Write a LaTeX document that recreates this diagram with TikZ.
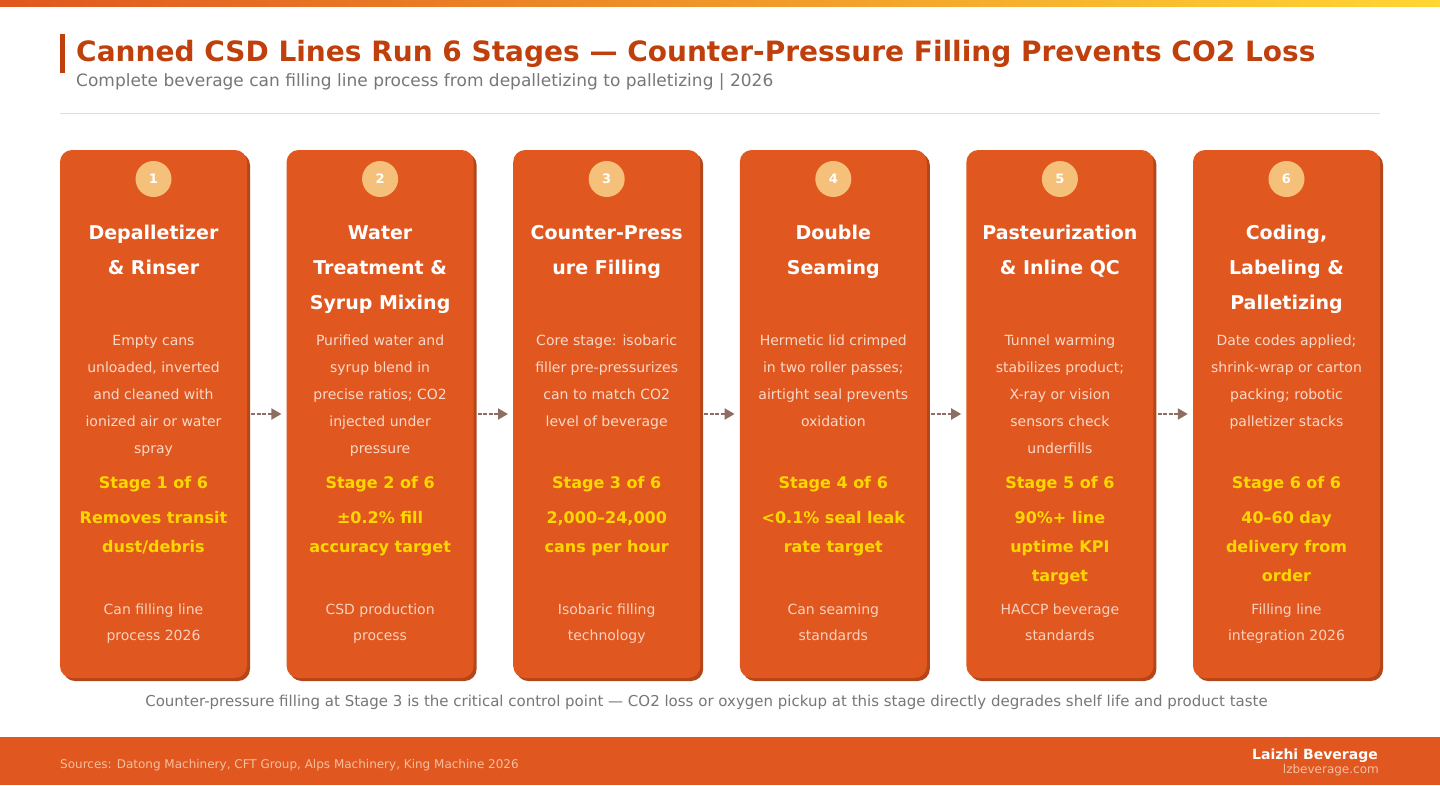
\documentclass[tikz,border=0pt]{standalone}
\usepackage{fontspec}
\setmainfont{DejaVu Sans}
\usetikzlibrary{shadows,arrows.meta}
\definecolor{cardbg}{HTML}{E0571F}
\definecolor{cardshadow}{HTML}{B4461A}
\definecolor{circc}{HTML}{F5C07A}
\definecolor{desccol}{HTML}{FAD9C8}
\definecolor{srccol}{HTML}{F8D2BE}
\definecolor{yel}{HTML}{FFD700}
\definecolor{titlec}{HTML}{BF400C}
\definecolor{subgray}{HTML}{777777}
\definecolor{sepgray}{HTML}{DDDDDD}
\definecolor{topL}{HTML}{E0571F}
\definecolor{topR}{HTML}{FFD633}
\definecolor{arrowc}{HTML}{8D6E63}
\definecolor{footsrc}{HTML}{F5BFA0}
\tikzset{
  card/.style={fill=cardbg, rounded corners=12pt, minimum width=187pt, minimum height=528pt, inner sep=0pt,
    drop shadow={shadow xshift=3pt, shadow yshift=-3pt, fill=cardshadow, opacity=1}},
  circ/.style={circle, fill=circc, minimum size=36pt, inner sep=0pt, text=white, font=\fontsize{13}{15}\selectfont\bfseries},
  ttl/.style={anchor=base, inner sep=0pt, text=white, font=\fontsize{19}{22}\selectfont\bfseries},
  desc/.style={anchor=base, inner sep=0pt, text=desccol, font=\fontsize{14}{16}\selectfont},
  stg/.style={anchor=base, inner sep=0pt, text=yel, font=\fontsize{16}{19}\selectfont\bfseries},
  src/.style={anchor=base, inner sep=0pt, text=srccol, font=\fontsize{14}{16}\selectfont},
  flow/.style={arrowc, line width=2pt, dash pattern=on 4pt off 1.5pt, -{Triangle[length=10pt,width=11pt]}},
}
\newcommand\cardtext[6]{%
  \pgfmathsetmacro\cx{153.5+(#1-1)*226.6}
  \node[card] (c#1) at (\cx,414) {};
  \node[circ] (n#1) at (\cx,179) {#1};
  \foreach \l [count=\k from 0] in {#2} {\node[ttl] (t#1-\k) at (\cx,{239+35*\k}) {\l};}
  \foreach \l [count=\k from 0] in {#3} {\node[desc] (d#1-\k) at (\cx,{345+27*\k}) {\l};}
  \node[stg] (s#1) at (\cx,488) {Stage #1 of 6};
  \foreach \l [count=\k from 0] in {#4} {\node[stg] (m#1-\k) at (\cx,{523+29*\k}) {\l};}
  \foreach \l [count=\k from 0] in {#5} {\node[src] (r#1-\k) at (\cx,{614+26.5*\k}) {\l};}
}
\begin{document}
\begin{tikzpicture}[x=1pt,y=-1pt]
\useasboundingbox (0,0) rectangle (1440,785);
\fill[white] (0,0) rectangle (1440,785);
\shade[left color=topL, right color=topR] (0,0) rectangle (1440,6);
\fill[titlec] (60,34) rectangle (65,73);
\node[anchor=base west, inner sep=0pt, text=titlec, font=\fontsize{28}{32}\selectfont\bfseries] (title) at (76,61)
  {Canned CSD Lines Run 6 Stages — Counter-Pressure Filling Prevents CO2 Loss};
\node[anchor=base west, inner sep=0pt, text=subgray, font=\fontsize{17}{20}\selectfont] (subtitle) at (76,86)
  {Complete beverage can filling line process from depalletizing to palletizing | 2026};
\draw[sepgray, line width=1pt] (60,113) -- (1380,113);

\cardtext{1}{Depalletizer,\& Rinser}{Empty cans,{unloaded, inverted},and cleaned with,ionized air or water,spray}{Removes transit,dust/debris}{Can filling line,process 2026}{}
\cardtext{2}{Water,Treatment \&,Syrup Mixing}{Purified water and,syrup blend in,{precise ratios; CO2},injected under,pressure}{±0.2\% fill,accuracy target}{CSD production,process}{}
\cardtext{3}{Counter-Press,ure Filling}{Core stage: isobaric,filler pre-pressurizes,can to match CO2,level of beverage}{{2,000–24,000},cans per hour}{Isobaric filling,technology}{}
\cardtext{4}{Double,Seaming}{Hermetic lid crimped,{in two roller passes;},airtight seal prevents,oxidation}{<0.1\% seal leak,rate target}{Can seaming,standards}{}
\cardtext{5}{Pasteurization,\& Inline QC}{Tunnel warming,stabilizes product;,X-ray or vision,sensors check,underfills}{90\%+ line,uptime KPI,target}{HACCP beverage,standards}{}
\cardtext{6}{{Coding,},Labeling \&,Palletizing}{Date codes applied;,shrink-wrap or carton,packing; robotic,palletizer stacks}{40–60 day,delivery from,order}{Filling line,integration 2026}{}

\foreach \i/\j in {1/2,2/3,3/4,4/5,5/6} {\draw[flow] ([xshift=4pt]c\i.east) -- ([xshift=-5pt]c\j.west);}

\node[anchor=base, inner sep=0pt, text=subgray, font=\fontsize{15}{18}\selectfont] (caption) at (706.5,706)
  {Counter-pressure filling at Stage 3 is the critical control point — CO2 loss or oxygen pickup at this stage directly degrades shelf life and product taste};

\fill[cardbg] (0,737) rectangle (1440,785);
\node[anchor=base west, inner sep=0pt, text=footsrc, font=\fontsize{12}{14}\selectfont] (sources) at (60,768)
  {Sources: Datong Machinery, CFT Group, Alps Machinery, King Machine 2026};
\node[anchor=base east, inner sep=0pt, text=white, font=\fontsize{14}{16}\selectfont\bfseries] (brand) at (1378,759) {Laizhi Beverage};
\node[anchor=base east, inner sep=0pt, text=footsrc, font=\fontsize{12}{14}\selectfont] (site) at (1379,773) {lzbeverage.com};
\end{tikzpicture}
\end{document}
